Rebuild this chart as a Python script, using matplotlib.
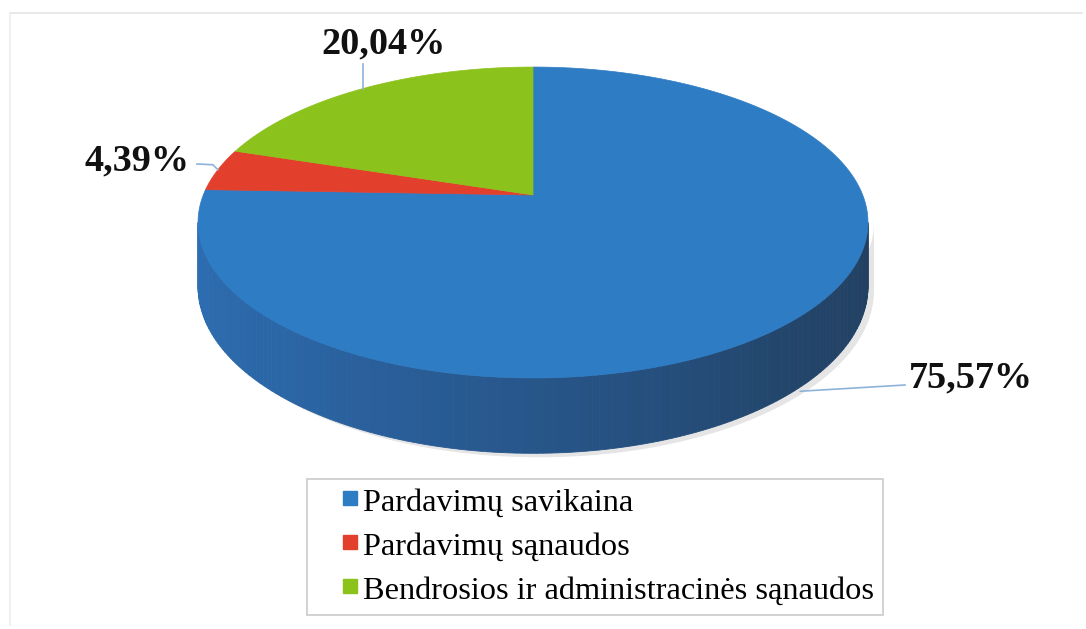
import numpy as np
import matplotlib
matplotlib.use("Agg")
import matplotlib.pyplot as plt
from matplotlib.colors import LinearSegmentedColormap
from matplotlib.patches import Rectangle
from matplotlib.legend_handler import HandlerPatch

# ---------------- data ----------------
categories = ["Pardavimų savikaina", "Pardavimų sąnaudos",
              "Bendrosios ir administracinės sąnaudos"]
values = [75.57, 4.39, 20.04]
value_labels = ["75,57%", "4,39%", "20,04%"]

# ---------------- style / layout ----------------
top_colors = ["#2e7cc3", "#e2402c", "#8cc21c"]
wall_cmaps = [
    LinearSegmentedColormap.from_list("b", ["#2d6eb3", "#2b66a6", "#27568a", "#23466c", "#223f60"]),
    LinearSegmentedColormap.from_list("r", ["#b8301f", "#8a2418"]),
    LinearSegmentedColormap.from_list("g", ["#6f9a16", "#557612"]),
]
W, H = 1086, 629
CX, VY = 533.0, 195.0          # projected pie centre (pixels)
A, B, K = 329.7, 150.6, 0.1769  # perspective ellipse parameters
D = 62.0                        # pie thickness
serif = ["Liberation Serif", "DejaVu Serif"]

fig = plt.figure(figsize=(W / 100, H / 100), dpi=100)
ax = fig.add_axes([0, 0, 1, 1])
ax.set_xlim(0, W)
ax.set_ylim(H, 0)
ax.axis("off")


def proj(t_deg):
    t = np.radians(t_deg)
    X, Y = np.cos(t), np.sin(t)
    w = 1 + K * Y
    return CX + A * X / w, VY - B * Y / w, D / w


# slice angular ranges (start at 12 o'clock, clockwise)
fr = np.array(values) / sum(values) * 360.0
his = 90.0 - np.concatenate([[0], np.cumsum(fr)[:-1]])
los = his - fr

# visible wall range (silhouette points)
t_left = 180.0 + np.degrees(np.arcsin(K)) - 360.0
t_right = -np.degrees(np.arcsin(K))

# faint shadow under the pie
ts = np.linspace(t_left, t_right, 200)
sx, sy, sd = proj(ts)
ax.fill(np.concatenate([sx + 6, (sx + 6)[::-1]]),
        np.concatenate([sy + sd + 4, (sy)[::-1]]),
        color="#000000", alpha=0.10, lw=0, zorder=1)

# side walls
for i in range(len(values)):
    for shift in (-360.0, 0.0, 360.0):
        lo = max(los[i] + shift, t_left)
        hi = min(his[i] + shift, t_right)
        if hi <= lo:
            continue
        edges = np.linspace(lo, hi, max(int((hi - lo) / 1.0), 2) + 1)
        for a0, a1 in zip(edges[:-1], edges[1:]):
            tt = np.linspace(a0, a1, 3)
            x, y, d = proj(tt)
            frac = ((a0 + a1) / 2 - t_left) / (t_right - t_left)
            c = wall_cmaps[i](frac)
            ax.fill(np.concatenate([x, x[::-1]]),
                    np.concatenate([y, (y + d)[::-1]]),
                    color=c, ec=c, lw=0.6, zorder=2)

# top faces
for i in range(len(values)):
    tt = np.linspace(his[i], los[i], 300)
    x, y, _ = proj(tt)
    ax.fill(np.concatenate([[CX], x]), np.concatenate([[VY], y]),
            color=top_colors[i], ec=top_colors[i], lw=0.5, zorder=3)

# data labels with leader lines
lead_col = "#8db3da"
mids = (his + los) / 2
# blue (index 0): label right, anchor at bottom of wall
x0, y0, d0 = proj(mids[0])
ax.plot([x0 + 5, 905], [y0 + d0 + 1, 385], color=lead_col, lw=1.2, zorder=4)
ax.text(909, 387, value_labels[0], fontsize=27.5, fontweight="bold",
        family=serif, ha="left", va="baseline", color="#111111", zorder=5)
# red (index 1): label left
x1, y1, _ = proj(mids[1])
ax.plot([x1, x1 - 5, 197], [y1, y1 - 5, 164], color=lead_col, lw=1.2, zorder=4)
ax.text(190, 170, value_labels[1], fontsize=27.5, fontweight="bold",
        family=serif, ha="right", va="baseline", color="#111111", zorder=5)
# green (index 2): label above
x2, y2, _ = proj(mids[2])
ax.plot([x2, x2], [y2, 64], color=lead_col, lw=1.2, zorder=4)
ax.text(384, 53, value_labels[2], fontsize=27.5, fontweight="bold",
        family=serif, ha="center", va="baseline", color="#111111", zorder=5)

# outer faint border (top and left)
ax.plot([10, 1082], [13, 13], color="#e4e4e4", lw=1.2, zorder=0)
ax.plot([10, 10], [13, 625], color="#ececec", lw=1.2, zorder=0)


# legend: small square placed at the right end of the handle box
def small_square(legend, orig_handle, xdescent, ydescent, width, height, fontsize):
    s = 0.42 * fontsize
    return Rectangle((-xdescent + width - s, -ydescent + (height - s) / 2 + 0.05 * fontsize), s, s)


handles = [Rectangle((0, 0), 1, 1, facecolor=c, edgecolor=c) for c in top_colors]
leg = ax.legend(handles, categories, loc="upper left",
                bbox_to_anchor=(307 / W, 1 - 479 / H),
                prop={"family": serif, "size": 23.3},
                handler_map={Rectangle: HandlerPatch(patch_func=small_square)},
                frameon=True, fancybox=False, edgecolor="#bdbdbd",
                handlelength=1.25, handletextpad=0.2, labelspacing=0.45,
                borderpad=0.28, borderaxespad=0)
leg.get_frame().set_linewidth(1.2)

fig.savefig("out.png", dpi=100)
